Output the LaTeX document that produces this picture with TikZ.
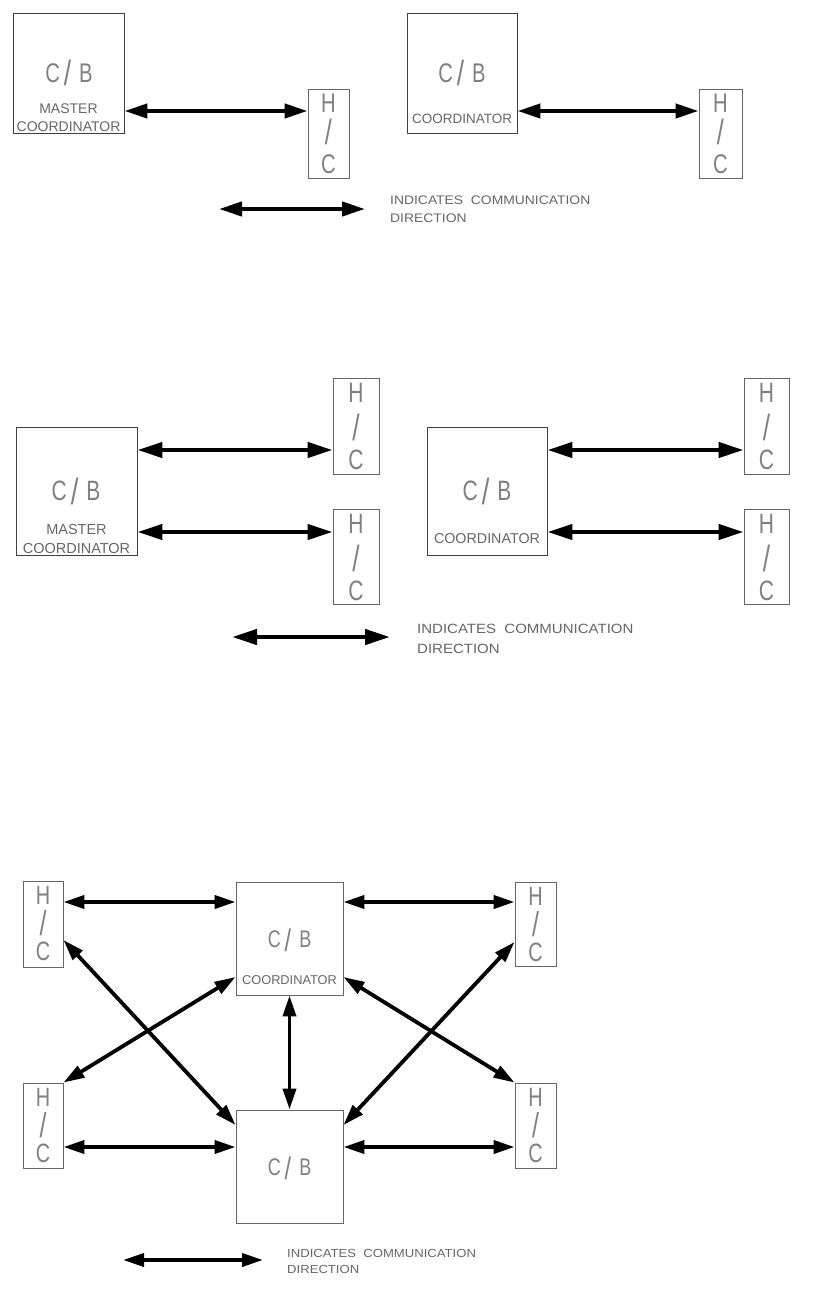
\documentclass[tikz,border=0pt]{standalone}
\usepackage{fontspec}
\setmainfont{Liberation Sans}
\newfontfamily\bigf[FakeStretch=0.75]{Liberation Sans}
\newfontfamily\labf{Liberation Sans}
\newfontfamily\legf[FakeStretch=1.12]{Liberation Sans}
\usetikzlibrary{arrows.meta}
\newcommand\cbtext{C\hspace{4pt}\raisebox{-4pt}{\scalebox{1.3}[1.3]{/}}\hspace{8pt}B}
\newcommand\slashtext{\scalebox{1.25}[1.3]{/}}
\tikzset{
  cbbox/.style={draw=black!75, line width=0.9pt, inner sep=0pt},
  hcbox/.style={draw=black!60, line width=0.9pt, inner sep=0pt},
  bigtxt/.style={text=black!50, inner sep=0pt, anchor=base},
  labtxt/.style={text=black!60, inner sep=0pt, anchor=base},
  legtxt/.style={text=black!60, inner sep=0pt, anchor=base west},
  arrA/.style={line width=4.2pt, {Triangle[length=23pt,width=14pt]}-{Triangle[length=23pt,width=14pt]}},
  arrB/.style={line width=4.4pt, {Triangle[length=25pt,width=15pt]}-{Triangle[length=25pt,width=15pt]}},
  arrC/.style={line width=3.8pt, {Triangle[length=21pt,width=13pt]}-{Triangle[length=21pt,width=13pt]}}
}
% #1 box name, #2 font size, #3 #4 #5 baseline offsets of H, /, C below the box top
\newcommand\hcletters[5]{%
  \node[bigtxt, font=\bigf\fontsize{#2}{#2}\selectfont] (#1h) at ([yshift=-#3pt]#1.north) {H};
  \node[bigtxt, font=\bigf\fontsize{#2}{#2}\selectfont] (#1s) at ([yshift=-#4pt]#1.north) {\slashtext};
  \node[bigtxt, font=\bigf\fontsize{#2}{#2}\selectfont] (#1c) at ([yshift=-#5pt]#1.north) {C};
}
\begin{document}
\begin{tikzpicture}[x=1pt,y=-1pt]
\useasboundingbox (0,0) rectangle (812,1290);
% ---------------- Section 1 ----------------
\node[cbbox, minimum width=111pt, minimum height=120pt] (cb1) at (68.5,73) {};
\node[bigtxt, font=\bigf\fontsize{27}{27}\selectfont] (cb1t) at (69,82) {\cbtext};
\node[labtxt, font=\labf\fontsize{14}{14}\selectfont] (cb1m) at (68.5,113) {MASTER};
\node[labtxt, font=\labf\fontsize{14}{14}\selectfont] (cb1c) at (68.5,131.5) {COORDINATOR};
\node[hcbox, minimum width=41pt, minimum height=89pt] (hc1) at (328.5,133.5) {};
\hcletters{hc1}{27}{24}{55.5}{84.5}
\draw[arrA] (cb1.east |- 0,111) -- (hc1.west |- 0,111);

\node[cbbox, minimum width=110pt, minimum height=120pt] (cb2) at (462,73) {};
\node[bigtxt, font=\bigf\fontsize{27}{27}\selectfont] (cb2t) at (462,82) {\cbtext};
\node[labtxt, font=\labf\fontsize{13.5}{13.5}\selectfont] (cb2c) at (462,123) {COORDINATOR};
\node[hcbox, minimum width=43pt, minimum height=89pt] (hc2) at (720.5,133.5) {};
\hcletters{hc2}{27}{24}{55.5}{84.5}
\draw[arrA] (cb2.east |- 0,111) -- (hc2.west |- 0,111);

\coordinate (l1a) at (219,209);
\coordinate (l1b) at (365,209);
\draw[arrA] (l1a) -- (l1b);
\node[legtxt, font=\legf\fontsize{12.4}{12.4}\selectfont] (l1t) at (390,204) {INDICATES\ \ COMMUNICATION};
\node[legtxt, font=\legf\fontsize{12.4}{12.4}\selectfont] (l1d) at (390,222.5) {DIRECTION};

% ---------------- Section 2 ----------------
\node[cbbox, minimum width=121pt, minimum height=128pt] (cb3) at (76.5,491) {};
\node[bigtxt, font=\bigf\fontsize{28}{28}\selectfont] (cb3t) at (76,500) {\cbtext};
\node[labtxt, font=\labf\fontsize{14.5}{14.5}\selectfont] (cb3m) at (76.5,534) {MASTER};
\node[labtxt, font=\labf\fontsize{14.5}{14.5}\selectfont] (cb3c) at (76.5,553) {COORDINATOR};
\node[hcbox, minimum width=46pt, minimum height=96pt] (hc3a) at (356,426) {};
\hcletters{hc3a}{28}{25}{63}{92}
\node[hcbox, minimum width=46pt, minimum height=95pt] (hc3b) at (356,556.5) {};
\hcletters{hc3b}{28}{25}{63}{92}
\draw[arrB] (cb3.east |- 0,450) -- (hc3a.west |- 0,450);
\draw[arrB] (cb3.east |- 0,532) -- (hc3b.west |- 0,532);

\node[cbbox, minimum width=120pt, minimum height=128pt] (cb4) at (487,491) {};
\node[bigtxt, font=\bigf\fontsize{28}{28}\selectfont] (cb4t) at (487,500) {\cbtext};
\node[labtxt, font=\labf\fontsize{14.3}{14.3}\selectfont] (cb4c) at (487,543) {COORDINATOR};
\node[hcbox, minimum width=45pt, minimum height=96pt] (hc4a) at (766.5,426) {};
\hcletters{hc4a}{28}{25}{63}{92}
\node[hcbox, minimum width=45pt, minimum height=95pt] (hc4b) at (766.5,556.5) {};
\hcletters{hc4b}{28}{25}{63}{92}
\draw[arrB] (cb4.east |- 0,450) -- (hc4a.west |- 0,450);
\draw[arrB] (cb4.east |- 0,532) -- (hc4b.west |- 0,532);

\coordinate (l2a) at (232,637);
\coordinate (l2b) at (390,637);
\draw[arrB] (l2a) -- (l2b);
\node[legtxt, font=\legf\fontsize{13.4}{13.4}\selectfont] (l2t) at (417,633) {INDICATES\ \ COMMUNICATION};
\node[legtxt, font=\legf\fontsize{13.4}{13.4}\selectfont] (l2d) at (417,653) {DIRECTION};

% ---------------- Section 3 ----------------
\node[hcbox, minimum width=40pt, minimum height=86pt] (hc5a) at (43,924) {};
\hcletters{hc5a}{26.5}{24}{55}{80}
\node[hcbox, minimum width=40pt, minimum height=85pt] (hc5b) at (43,1125.5) {};
\hcletters{hc5b}{26.5}{24}{55}{80}
\node[hcbox, minimum width=41pt, minimum height=84pt] (hc5c) at (535.5,924) {};
\hcletters{hc5c}{26.5}{24}{55}{80}
\node[hcbox, minimum width=41pt, minimum height=85pt] (hc5d) at (535.5,1125.5) {};
\hcletters{hc5d}{26.5}{24}{55}{80}

\node[hcbox, minimum width=107pt, minimum height=113pt] (cb5t) at (289.5,938.5) {};
\node[bigtxt, font=\bigf\fontsize{24}{24}\selectfont] (cb5tt) at (289.5,947) {\cbtext};
\node[labtxt, font=\labf\fontsize{12.8}{12.8}\selectfont] (cb5tc) at (289.5,984) {COORDINATOR};
\node[hcbox, minimum width=107pt, minimum height=113pt] (cb5b) at (289.5,1166.5) {};
\node[bigtxt, font=\bigf\fontsize{24}{24}\selectfont] (cb5bt) at (289.5,1175) {\cbtext};

\draw[arrC] (hc5a.east |- 0,902) -- (cb5t.west |- 0,902);
\draw[arrC] (cb5t.east |- 0,902) -- (hc5c.west |- 0,902);
\draw[arrC] (hc5b.east |- 0,1147) -- (cb5b.west |- 0,1147);
\draw[arrC] (cb5b.east |- 0,1147) -- (hc5d.west |- 0,1147);
\draw[arrC] (hc5a.east |- 0,940) -- (cb5b.west |- 0,1125);
\draw[arrC] (cb5t.west |- 0,977) -- (hc5b.north east);
\draw[arrC] (cb5t.east |- 0,977) -- (hc5d.north west);
\draw[arrC] (cb5b.east |- 0,1125) -- (hc5c.west |- 0,942);
\draw[arrC] (cb5t.south) -- (cb5b.north);

\coordinate (l3a) at (123,1260);
\coordinate (l3b) at (263,1260);
\draw[arrC] (l3a) -- (l3b);
\node[legtxt, font=\legf\fontsize{11.7}{11.7}\selectfont] (l3t) at (287,1257) {INDICATES\ \ COMMUNICATION};
\node[legtxt, font=\legf\fontsize{11.7}{11.7}\selectfont] (l3d) at (287,1273) {DIRECTION};
\end{tikzpicture}
\end{document}
